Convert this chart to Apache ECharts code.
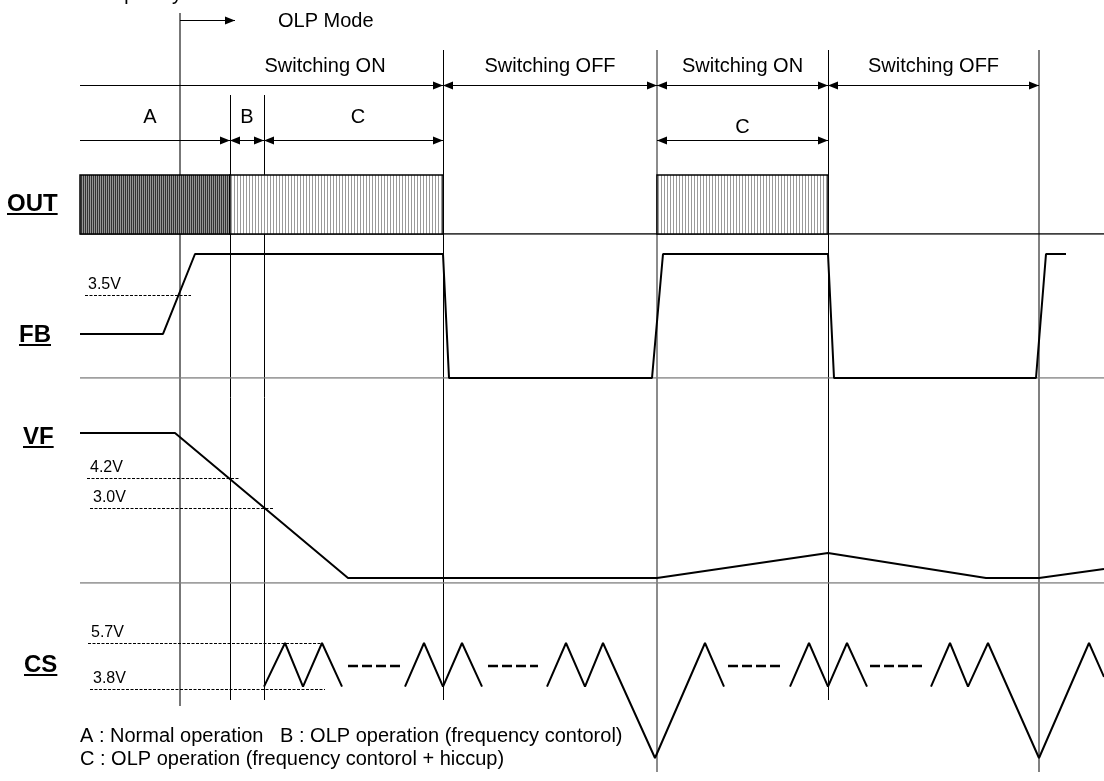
<!DOCTYPE html>
<html><head><meta charset="utf-8">
<script src="https://cdn.jsdelivr.net/npm/echarts@6/dist/echarts.min.js"></script>
<style>html,body{margin:0;padding:0;background:#fff}#c{width:1104px;height:781px}</style>
</head><body><div id="c"></div>
<script>
// ================= DATA (time units along x, volts per lane) =================
const markerTimes   = [180, 230, 264, 443, 657, 828, 1039];
const phaseStarts   = [80, 443, 657, 828];
const phaseEnds     = [443, 657, 828, 1039];
const phaseLabels   = ['Switching ON', 'Switching OFF', 'Switching ON', 'Switching OFF'];
const modeStarts    = [80, 230, 264, 657];
const modeEnds      = [230, 264, 443, 828];
const modeLabels    = ['A', 'B', 'C', 'C'];
const olpArrow      = [180, 235];
const outStarts     = [80, 230, 657];
const outEnds       = [230, 443, 828];
const outKinds      = ['normal', 'olp', 'olp'];
const fbTime        = [80, 163, 195, 443, 449, 652, 663, 828, 834, 1036, 1046, 1066];
const fbVolt        = [1.85, 1.85, 5.2, 5.2, 0, 0, 5.2, 5.2, 0, 0, 5.2, 5.2];
const vfTime        = [80, 175, 348, 657, 828, 986, 1039, 1104];
const vfVolt        = [6.0, 6.0, 0.2, 0.2, 1.2, 0.2, 0.2, 0.56];
const csGroupTimes  = [[264, 285, 303, 322, 342], [405, 424, 443, 462, 482], [547, 566, 585, 603, 655, 705, 724], [790, 809, 828, 847, 867], [931, 950, 968, 988, 1039, 1089, 1104]];
const csGroupVolts  = [[3.9, 5.7, 3.9, 5.7, 3.9], [3.9, 5.7, 3.9, 5.7, 3.9], [3.9, 5.7, 3.9, 5.7, 0.95, 5.7, 3.9], [3.9, 5.7, 3.9, 5.7, 3.9], [3.9, 5.7, 3.9, 5.7, 0.95, 5.7, 4.3]];
const csGapStarts   = [348, 488, 728, 870];
const csGapEnds     = [400, 538, 784, 923];
const csGapVolt     = 4.75;
const fbRefVolts = [3.5], fbRefStarts = [85], fbRefEnds = [191], fbRefLabels = ['3.5V'];
const vfRefVolts = [4.2, 3.0], vfRefStarts = [87, 90], vfRefEnds = [240, 273], vfRefLabels = ['4.2V', '3.0V'];
const csRefVolts = [5.7, 3.8], csRefStarts = [88, 90], csRefEnds = [323, 325], csRefLabels = ['5.7V', '3.8V'];
const laneNames   = ['OUT', 'FB', 'VF', 'CS'];
const legendLines = ['A : Normal operation   B : OLP operation (frequency contorol)', 'C : OLP operation (frequency contorol + hiccup)'];
const topNote     = 'Frequency';
const olpLabel    = 'OLP Mode';

// ================= LAYOUT / STYLE =================
const W = 1104, H = 781;
const FONT = "'Liberation Sans', Arial, Helvetica, sans-serif";
const lanes = [
  {top: 0, height: H, min: 0, max: H, inverse: true},   // 0 sheet (annotation rows)
  {top: 175, height: 59, min: 0, max: 1},               // 1 OUT
  {top: 254, height: 124, min: 0, max: 5.2},            // 2 FB
  {top: 433, height: 150, min: 0, max: 6.0},            // 3 VF
  {top: 643, height: 150, min: 0, max: 5.7}             // 4 CS
];
const markerStyle = {
  top:    [13, 95, 95, 50, 50, 50, 50],
  bottom: [706, 700, 700, 700, 772, 700, 772],
  color:  ['#777', '#000', '#000', '#000', '#666', '#000', '#808080'],
  width:  [2, 1, 1, 1, 1.5, 1, 2]
};
const phaseRowY = 85, modeRowY = 140;
const phaseLabelY = 66, phaseLabelX = [325, null, null, null];
const modeLabelY = [117, 117, 117, 127], modeLabelX = [150, null, 358, null];
const phaseHeads = ['end', 'both', 'both', 'both'];
const modeHeads = ['end', 'both', 'both', 'both'];
const laneLabelPos = [[7, 204], [19, 335], [23, 437], [24, 665]];

function arrowHead(p, dir) {
  const L = 10, h = 4;
  return {type: 'polygon', shape: {points: [[p[0], p[1]], [p[0] - dir * L, p[1] - h], [p[0] - dir * L, p[1] + h]]}, style: {fill: '#000'}};
}
function hline(a, b, stroke, lw, dash) {
  return {type: 'line', shape: {x1: a[0], y1: a[1], x2: b[0], y2: b[1]}, style: {stroke: stroke, lineWidth: lw, lineDash: dash || null}};
}
function txt(x, y, text, size, align, weight, vAlign) {
  return {type: 'text', x: x, y: y, style: {text: text, fill: '#000', font: (weight || 'normal') + ' ' + size + 'px ' + FONT, align: align || 'left', verticalAlign: vAlign || 'middle'}};
}
const measureCtx = document.createElement('canvas').getContext('2d');

const series = [];

// --- vertical event markers (sheet) ---
series.push({
  type: 'custom', xAxisIndex: 0, yAxisIndex: 0, z: 1,
  data: markerTimes.map((t, i) => [t, i]),
  renderItem: (params, api) => {
    const i = api.value(1);
    const a = api.coord([api.value(0), markerStyle.top[i]]);
    const b = api.coord([api.value(0), markerStyle.bottom[i]]);
    const off = markerStyle.width[i] % 2 === 1 ? 0.5 : 0;
    return hline([Math.round(a[0]) + off, a[1]], [Math.round(b[0]) + off, b[1]], markerStyle.color[i], markerStyle.width[i]);
  }
});

// --- lane baselines ---
series.push({type: 'line', xAxisIndex: 1, yAxisIndex: 1, z: 2, symbol: 'none', data: [[outStarts[0], 0], [W, 0]], lineStyle: {color: '#000', width: 1.5}});
series.push({type: 'line', xAxisIndex: 2, yAxisIndex: 2, z: 2, symbol: 'none', data: [[outStarts[0], 0], [W, 0]], lineStyle: {color: '#808080', width: 1.5}});
series.push({type: 'line', xAxisIndex: 3, yAxisIndex: 3, z: 2, symbol: 'none', data: [[outStarts[0], 0], [W, 0]], lineStyle: {color: '#808080', width: 1.5}});

// --- OUT hatched blocks ---
series.push({
  type: 'custom', xAxisIndex: 1, yAxisIndex: 1, z: 3,
  data: outStarts.map((s, i) => [s, outEnds[i], i]),
  renderItem: (params, api) => {
    const kind = outKinds[api.value(2)];
    const p0 = api.coord([api.value(0), 1]);
    const p1 = api.coord([api.value(1), 0]);
    const x0 = Math.round(p0[0]), x1 = Math.round(p1[0]), y0 = Math.round(p0[1]), y1 = Math.round(p1[1]);
    const children = [];
    const dark = kind === 'normal';
    children.push({type: 'rect', shape: {x: x0, y: y0, width: x1 - x0, height: y1 - y0}, style: {fill: dark ? '#959595' : '#fff'}});
    const pitch = dark ? 2 : 3;
    for (let x = x0 + 1; x < x1; x += pitch) {
      children.push(hline([x + 0.5, y0], [x + 0.5, y1], dark ? '#333' : '#9a9a9a', 1));
    }
    children.push({type: 'rect', shape: {x: x0, y: y0, width: x1 - x0, height: y1 - y0}, style: {fill: null, stroke: '#000', lineWidth: 1.5}});
    return {type: 'group', children: children};
  }
});

// --- reference (threshold) lines ---
function refSeries(axis, volts, starts, ends, labels) {
  return {
    type: 'custom', xAxisIndex: axis, yAxisIndex: axis, z: 4,
    data: volts.map((v, i) => [starts[i], ends[i], v, i]),
    renderItem: (params, api) => {
      const a = api.coord([api.value(0), api.value(2)]);
      const b = api.coord([api.value(1), api.value(2)]);
      const y = Math.round(a[1]) + 0.5;
      return {type: 'group', children: [
        hline([a[0], y], [b[0], y], '#000', 1, [3, 1.5]),
        txt(a[0] + 3, y - 3, labels[api.value(3)], 16, 'left', 'normal', 'bottom')
      ]};
    }
  };
}
series.push(refSeries(2, fbRefVolts, fbRefStarts, fbRefEnds, fbRefLabels));
series.push(refSeries(3, vfRefVolts, vfRefStarts, vfRefEnds, vfRefLabels));
series.push(refSeries(4, csRefVolts, csRefStarts, csRefEnds, csRefLabels));

// --- signals ---
series.push({type: 'line', xAxisIndex: 2, yAxisIndex: 2, z: 5, symbol: 'none', data: fbTime.map((t, i) => [t, fbVolt[i]]), lineStyle: {color: '#000', width: 2}});
series.push({type: 'line', xAxisIndex: 3, yAxisIndex: 3, z: 5, symbol: 'none', data: vfTime.map((t, i) => [t, vfVolt[i]]), lineStyle: {color: '#000', width: 2}});
csGroupTimes.forEach((ts, g) => {
  series.push({type: 'line', xAxisIndex: 4, yAxisIndex: 4, z: 5, symbol: 'none', data: ts.map((t, i) => [t, csGroupVolts[g][i]]), lineStyle: {color: '#000', width: 2}});
});
series.push({
  type: 'custom', xAxisIndex: 4, yAxisIndex: 4, z: 5,
  data: csGapStarts.map((s, i) => [s, csGapEnds[i], csGapVolt]),
  renderItem: (params, api) => {
    const a = api.coord([api.value(0), api.value(2)]);
    const b = api.coord([api.value(1), api.value(2)]);
    return hline(a, b, '#000', 2.5, [10, 4]);
  }
});

// --- timing arrows (sheet) ---
function arrowRow(starts, ends, heads, rowY) {
  return {
    type: 'custom', xAxisIndex: 0, yAxisIndex: 0, z: 6,
    data: starts.map((s, i) => [s, ends[i], i]),
    renderItem: (params, api) => {
      const i = api.value(2);
      const a = api.coord([api.value(0), rowY]);
      const b = api.coord([api.value(1), rowY]);
      a[1] = Math.round(a[1]) + 0.5; b[1] = a[1];
      const ch = [hline(a, b, '#000', 1)];
      ch.push(arrowHead(b, 1));
      if (heads[i] === 'both') ch.push(arrowHead(a, -1));
      return {type: 'group', children: ch};
    }
  };
}
series.push(arrowRow(phaseStarts, phaseEnds, phaseHeads, phaseRowY));
series.push(arrowRow(modeStarts, modeEnds, modeHeads, modeRowY));
series.push({
  type: 'custom', xAxisIndex: 0, yAxisIndex: 0, z: 6,
  data: [[olpArrow[0], olpArrow[1]]],
  renderItem: (params, api) => {
    const a = api.coord([api.value(0), 20]);
    const b = api.coord([api.value(1), 20]);
    a[1] = Math.round(a[1]) + 0.5; b[1] = a[1];
    return {type: 'group', children: [hline(a, b, '#000', 1), arrowHead(b, 1),
      txt(b[0] + 43, b[1] + 1, olpLabel, 20, 'left')]};
  }
});

// --- text labels (sheet) ---
series.push({
  type: 'custom', xAxisIndex: 0, yAxisIndex: 0, z: 7,
  data: [[0, 0]],
  renderItem: (params, api) => {
    const ch = [];
    phaseLabels.forEach((l, i) => {
      const x = phaseLabelX[i] != null ? phaseLabelX[i] : (phaseStarts[i] + phaseEnds[i]) / 2;
      const p = api.coord([x, phaseLabelY]);
      ch.push(txt(p[0], p[1], l, 20, 'center'));
    });
    modeLabels.forEach((l, i) => {
      const x = modeLabelX[i] != null ? modeLabelX[i] : (modeStarts[i] + modeEnds[i]) / 2;
      const p = api.coord([x, modeLabelY[i]]);
      ch.push(txt(p[0], p[1], l, 20, 'center'));
    });
    laneNames.forEach((l, i) => {
      const p = api.coord(laneLabelPos[i]);
      ch.push(txt(p[0], p[1], l, 24, 'left', 'bold'));
      measureCtx.font = 'bold 24px ' + FONT;
      const w = measureCtx.measureText(l).width;
      ch.push(hline([p[0], p[1] + 10], [p[0] + w, p[1] + 10], '#000', 2));
    });
    legendLines.forEach((l, i) => {
      const p = api.coord([80, 736 + i * 23]);
      ch.push(txt(p[0], p[1], l, 20, 'left'));
    });
    // note above the top edge: only its descenders fall inside the picture
    const tp = api.coord([182, 4]);
    ch.push(txt(tp[0], tp[1], topNote, 20, 'right', 'normal', 'bottom'));
    return {type: 'group', children: ch};
  }
});

const option = {
  animation: false,
  backgroundColor: '#fff',
  grid: lanes.map(l => ({left: 0, width: W, top: l.top, height: l.height, containLabel: false})),
  xAxis: lanes.map((l, i) => ({type: 'value', gridIndex: i, min: 0, max: W, show: false})),
  yAxis: lanes.map((l, i) => ({type: 'value', gridIndex: i, min: l.min, max: l.max, inverse: !!l.inverse, show: false})),
  series: series
};
const chart = echarts.init(document.getElementById('c'), null, {renderer: 'canvas', width: W, height: H});
chart.setOption(option);
</script></body></html>
